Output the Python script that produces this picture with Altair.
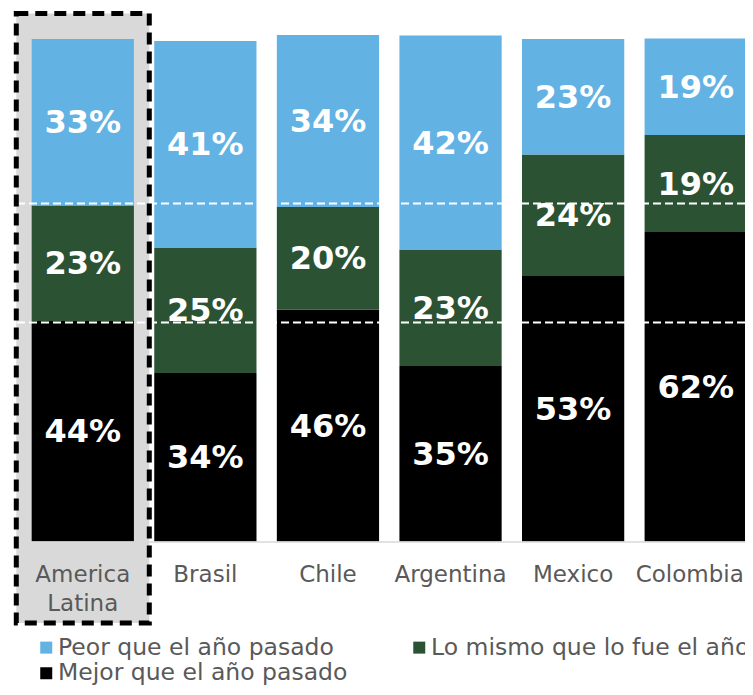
import altair as alt
import pandas as pd

# ---- data ----
cats = ["America Latina", "Brasil", "Chile", "Argentina", "Mexico", "Colombia"]
series = ["Peor que el año pasado", "Lo mismo que lo fue el año pasado", "Mejor que el año pasado"]
colors = ["#62B2E4", "#2C5234", "#000000"]

# bar segment heights (percent) as measured
mejor = [44.1, 33.7, 46.4, 35.1, 53.1, 61.9]
mismo = [23.1, 25.1, 20.5, 23.3, 24.3, 19.4]
peor = [33.3, 41.3, 34.4, 42.8, 23.1, 19.3]

# printed labels
mejor_lbl = [44, 34, 46, 35, 53, 62]
mismo_lbl = [23, 25, 20, 23, 24, 19]
peor_lbl = [33, 41, 34, 42, 23, 19]

# white dashed reference lines (America Latina levels)
ref_lines = [43.8, 67.6]

# highlighted category box extent (value units)
highlight_cat = ["America Latina"]
highlight_top = [105.6]
highlight_bottom = [-16.3]

rows = []
for i, c in enumerate(cats):
    base = 0.0
    for name, vals, lbls in [
        (series[2], mejor, mejor_lbl),
        (series[1], mismo, mismo_lbl),
        (series[0], peor, peor_lbl),
    ]:
        v = vals[i]
        rows.append(dict(cat=c, serie=name, y0=base, y1=base + v,
                         mid=base + v / 2, label=f"{lbls[i]}%"))
        base += v
df = pd.DataFrame(rows)
hl = pd.DataFrame({"cat": highlight_cat, "top": highlight_top, "bottom": highlight_bottom})
rl = pd.DataFrame({"v": ref_lines})

FONT = "DejaVu Sans"
xscale = alt.Scale(domain=cats, range=[8.5, 744], paddingInner=0.166, paddingOuter=0.083)
yscale = alt.Scale(domain=[0, 104], nice=False, zero=False)

x_axis = alt.Axis(title=None, labelExpr="split(datum.label, ' ')", labelAngle=0,
                  ticks=False, domainColor="#d9d9d9", domainWidth=1.5,
                  labelFontSize=23, labelColor="#595959", labelFont=FONT,
                  labelPadding=22, labelLineHeight=29, zindex=1,
                  labelOffset={"condition": {"test": "datum.value == 'Colombia'", "value": -6},
                               "value": 0})
X = alt.X("cat:N", scale=xscale, sort=cats, axis=x_axis)

highlight = alt.Chart(hl).mark_bar(width=133, color="#d9d9d9").encode(
    x=X,
    y=alt.Y("top:Q", scale=yscale, axis=None),
    y2="bottom:Q",
)

bars = alt.Chart(df).mark_bar().encode(
    x=X,
    y=alt.Y("y0:Q", scale=yscale, axis=None),
    y2="y1:Q",
    color=alt.Color("serie:N", scale=alt.Scale(domain=series, range=colors),
                    legend=alt.Legend(title=None, orient="none", legendX=21.5, legendY=614,
                                      direction="horizontal", columns=2,
                                      symbolType="square", symbolSize=144,
                                      symbolStrokeWidth=0, labelFontSize=23.5, labelFont=FONT,
                                      labelColor="#595959", labelLimit=600, labelOffset=0,
                                      columnPadding=60, rowPadding=1, padding=0)),
)

rules = alt.Chart(rl).mark_rule(color="white", strokeWidth=2, strokeDash=[8, 4]).encode(
    y=alt.Y("v:Q", scale=yscale, axis=None),
    x=alt.value(4),
    x2=alt.value(760),
)

texts = alt.Chart(df).mark_text(font=FONT, fontWeight="bold", fontSize=32,
                                color="white", baseline="middle", dy=1).encode(
    x=X,
    y=alt.Y("mid:Q", scale=yscale, axis=None),
    text="label:N",
)

border = alt.Chart(hl).mark_bar(width=133, fillOpacity=0, stroke="black",
                                strokeWidth=5, strokeDash=[12, 7]).encode(
    x=X,
    y=alt.Y("top:Q", scale=yscale, axis=None),
    y2="bottom:Q",
)

chart = alt.layer(highlight, bars, rules, texts, border).properties(
    width=732, height=520,
    autosize=alt.AutoSizeParams(type="none"),
    padding={"left": 5, "top": 13.5, "right": 0, "bottom": 145.5},
).configure_view(strokeWidth=0)

chart.save("out.html", embed_options={"renderer": "svg", "actions": False})
